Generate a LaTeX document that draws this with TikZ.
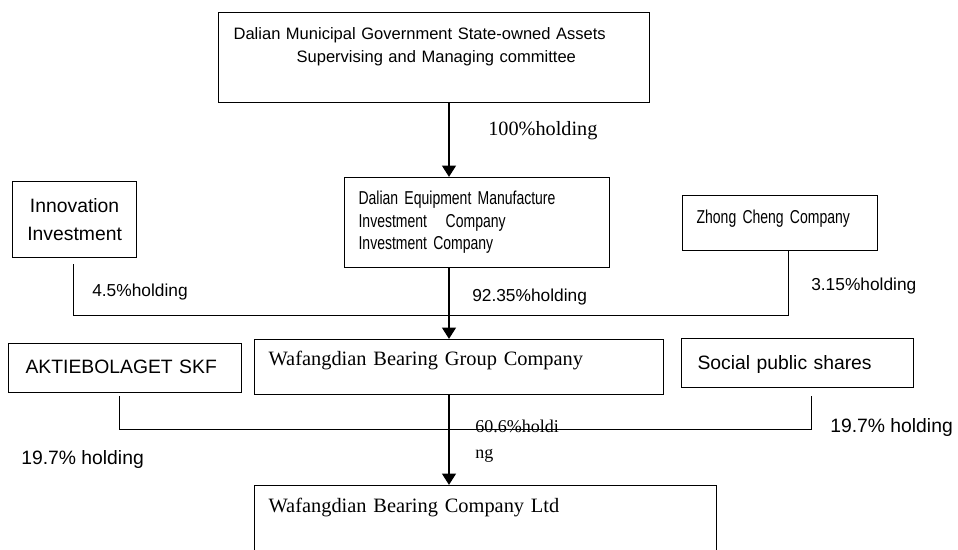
\documentclass[tikz,border=0pt]{standalone}
\usepackage{fontspec}
\setmainfont{Liberation Serif}
\setsansfont{Liberation Sans}
\newfontfamily\narrowsans[FakeStretch=0.75,WordSpace=0.5]{Liberation Sans}
\usetikzlibrary{arrows.meta}

\begin{document}
\begin{tikzpicture}[x=0.75pt,y=-0.75pt,
  firm/.style={draw,line width=0.9pt,anchor=north west,inner ysep=0pt,align=left},
  own/.style={line width=2.2pt,-{Triangle[width=10pt,length=8.5pt]}},
  share/.style={line width=0.75pt},
  pct/.style={anchor=base west,inner sep=0pt,font=\sffamily\fontsize{13}{15}\selectfont}]
  % Boundary
  \path[use as bounding box] (0,0) rectangle (958,550);
  \clip (0,0) rectangle (958,550);
  % Trunk and buses
  \coordinate (trunk) at (449,0);
  \coordinate (busW) at (73,315);
  \coordinate (busE) at (788,315);
  \coordinate (busSW) at (119,429);
  \coordinate (busSE) at (811,429);
  % Firms
  \node[firm,inner xsep=11.25pt,text width=300.75pt,text height=20.25pt,text depth=47.25pt,
    font=\sffamily\fontsize{12.4}{17.25}\selectfont] (gov) at (218,12)
    {Dalian Municipal Government State-owned Assets\\\hspace*{47.25pt}Supervising and Managing committee};
  \node[firm,inner xsep=10.5pt,text width=177.75pt,text height=20.25pt,text depth=47.25pt,
    font=\narrowsans\fontsize{14}{16.9}\selectfont] (equip) at (344,177)
    {Dalian Equipment Manufacture\\Investment\quad Company\\Investment Company};
  \node[firm,align=center,inner xsep=6pt,text width=81pt,text height=23.25pt,text depth=33.75pt,
    font=\sffamily\fontsize{14.5}{21}\selectfont] (innov) at (12,181) {Innovation\\Investment};
  \node[firm,inner xsep=10.5pt,text width=125.25pt,text height=21pt,text depth=20.25pt,
    font=\narrowsans\fontsize{14}{16.9}\selectfont] (zhong) at (682,195) {Zhong Cheng Company};
  \node[firm,inner xsep=12.75pt,text width=149.25pt,text height=22.5pt,text depth=14.25pt,
    font=\sffamily\fontsize{14.5}{17}\selectfont] (skf) at (8,343) {AKTIEBOLAGET SKF};
  \node[firm,inner xsep=10.5pt,text width=285.75pt,text height=19.5pt,text depth=21.75pt,
    font=\rmfamily\fontsize{15.3}{18}\selectfont] (group) at (254,339) {Wafangdian Bearing Group Company};
  \node[firm,inner xsep=12pt,text width=150pt,text height=23.25pt,text depth=13.5pt,
    font=\sffamily\fontsize{14.5}{17}\selectfont] (social) at (681,338) {Social public shares};
  \node[firm,inner xsep=10.5pt,text width=325.5pt,text height=20.25pt,text depth=51pt,
    font=\rmfamily\fontsize{15.3}{18}\selectfont] (ltd) at (254,485) {Wafangdian Bearing Company Ltd};
  % Holdings
  \node[pct,font=\rmfamily\fontsize{15.2}{18}\selectfont] (h100) at (488,135) {100\%holding};
  \node[pct] (h45) at (92,296) {4.5\%holding};
  \node[pct] (h9235) at (472,301) {92.35\%holding};
  \node[pct] (h315) at (811,290) {3.15\%holding};
  \node[pct,text width=62pt,align=left,font=\rmfamily\fontsize{13.5}{19.5}\selectfont] (h606) at (475,432) {60.6\%holdi\\ng};
  \node[pct,font=\sffamily\fontsize{14.5}{17}\selectfont] (h197a) at (21,464) {19.7\% holding};
  \node[pct,font=\sffamily\fontsize{14.5}{17}\selectfont] (h197b) at (830,432) {19.7\% holding};
  % Connectors
  \draw[share,shorten <=4.5pt] (innov.south -| busW) -- (busW) -- (busE) -- (zhong.south -| busE);
  \draw[share,shorten <=2pt,shorten >=6pt] (skf.south -| busSW) -- (busSW) -- (busSE) -- (social.south -| busSE);
  \draw[own] (gov.south -| trunk) -- (equip.north -| trunk);
  \draw[own] (equip.south -| trunk) -- (group.north -| trunk);
  \draw[own] (group.south -| trunk) -- (ltd.north -| trunk);
\end{tikzpicture}
\end{document}
